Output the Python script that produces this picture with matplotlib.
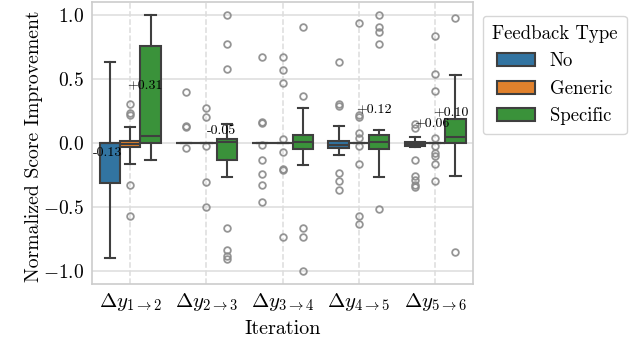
import matplotlib
matplotlib.use('Agg')
import matplotlib.pyplot as plt
from matplotlib.patches import Patch

plt.rcParams['font.family'] = 'serif'
plt.rcParams['font.serif'] = ['cmr10']
plt.rcParams['mathtext.fontset'] = 'cm'
plt.rcParams['axes.formatter.use_mathtext'] = True

# iteration steps
iterations = [r'$\Delta y_{1\to 2}$', r'$\Delta y_{2\to 3}$', r'$\Delta y_{3\to 4}$',
              r'$\Delta y_{4\to 5}$', r'$\Delta y_{5\to 6}$']
feedback = ['No', 'Generic', 'Specific']
colors = ['#3274a1', '#e1812c', '#3a923a']

# box statistics (per feedback type, per iteration)
no_q1 = [-0.31, 0.0, 0.0, -0.04, -0.026]
no_med = [0.0, 0.0, 0.0, -0.012, -0.01]
no_q3 = [0.0, 0.0, 0.0, 0.018, 0.005]
no_lo = [-0.894, 0.0, 0.0, -0.096, -0.03]
no_hi = [0.635, 0.0, 0.0, 0.135, 0.051]
no_fliers = [
    [],
    [0.40, 0.135, 0.125, -0.04],
    [0.669, 0.168, 0.155, -0.013, -0.135, -0.239, -0.33, -0.462],
    [0.635, 0.303, 0.29, -0.229, -0.293, -0.363],
    [0.148, 0.117, -0.13, -0.26, -0.29, -0.324, -0.34],
]

gen_q1 = [-0.034, 0.0, 0.0, 0.0, 0.0]
gen_med = [-0.008, 0.0, 0.0, 0.0, 0.0]
gen_q3 = [0.02, 0.0, 0.0, 0.0, 0.0]
gen_lo = [-0.163, 0.0, 0.0, 0.0, 0.0]
gen_hi = [0.124, 0.0, 0.0, 0.0, 0.0]
gen_fliers = [
    [0.303, 0.233, 0.22, -0.33, -0.565],
    [0.272, 0.202, -0.026, -0.30, -0.498],
    [0.669, 0.57, 0.472, 0.031, -0.07, -0.202, -0.21, -0.731],
    [0.938, 0.22, 0.202, 0.078, 0.039, -0.021, -0.163, -0.565, -0.63],
    [0.837, 0.537, 0.407, 0.039, -0.026, -0.078, -0.1, -0.163, -0.298],
]

spec_q1 = [0.0, -0.13, -0.047, -0.044, 0.0]
spec_med = [0.057, 0.005, 0.005, 0.005, 0.051]
spec_q3 = [0.759, 0.031, 0.065, 0.065, 0.187]
spec_lo = [-0.132, -0.264, -0.169, -0.264, -0.26]
spec_hi = [1.0, 0.15, 0.272, 0.103, 0.531]
spec_fliers = [
    [],
    [1.0, 0.77, 0.575, -0.664, -0.83, -0.88, -0.9],
    [0.902, 0.368, -0.664, -0.731, -0.998],
    [1.0, 0.902, 0.868, 0.77, -0.511],
    [0.972, -0.851],
]

# mean labels and where they sit
label_text = ['-0.13', '+0.31', '-0.05', '+0.12', '+0.06', '+0.10']
label_x = [-0.30, 0.196, 1.193, 3.20, 3.96, 4.21]
label_y = [-0.075, 0.453, 0.096, 0.267, 0.154, 0.243]

groups = [
    (no_q1, no_med, no_q3, no_lo, no_hi, no_fliers),
    (gen_q1, gen_med, gen_q3, gen_lo, gen_hi, gen_fliers),
    (spec_q1, spec_med, spec_q3, spec_lo, spec_hi, spec_fliers),
]

fig = plt.figure(figsize=(6.31, 3.47), dpi=100)
ax = fig.add_axes([0.146, 0.181, 0.604, 0.813])

line_col = '#3f3f3f'
w = 0.8 / 3
for h, (q1, med, q3, lo, hi, fl) in enumerate(groups):
    stats = []
    for i in range(len(iterations)):
        stats.append({'q1': q1[i], 'med': med[i], 'q3': q3[i],
                      'whislo': lo[i], 'whishi': hi[i], 'fliers': fl[i]})
    pos = [i - 0.8 / 2 + w * (h + 0.5) for i in range(len(iterations))]
    ax.bxp(stats, positions=pos, widths=w, patch_artist=True, showcaps=True,
           manage_ticks=False,
           boxprops=dict(facecolor=colors[h], edgecolor=line_col, linewidth=1.5),
           medianprops=dict(color=line_col, linewidth=1.5),
           whiskerprops=dict(color=line_col, linewidth=1.5),
           capprops=dict(color=line_col, linewidth=1.5),
           capwidths=w * 0.5,
           flierprops=dict(marker='o', markerfacecolor='none', markeredgecolor='#8a8a8a',
                           markersize=4.8, markeredgewidth=1.3, alpha=0.9))

for t, x, y in zip(label_text, label_x, label_y):
    ax.text(x, y, t, ha='center', va='center', fontsize=10, color='black')

ax.set_xlim(-0.5, len(iterations) - 0.5)
ax.set_ylim(-1.1, 1.1)
ax.set_xticks(range(len(iterations)))
ax.set_xticklabels(iterations, fontsize=15)
ax.set_yticks([-1.0, -0.5, 0.0, 0.5, 1.0])
ax.tick_params(axis='y', labelsize=14, length=0, pad=6)
ax.tick_params(axis='x', length=0, pad=5)
ax.set_xlabel('Iteration', fontsize=14.5, labelpad=5)
ax.set_ylabel('Normalized Score Improvement', fontsize=14.2, labelpad=7)
ax.yaxis.set_label_coords(-0.13, 0.49)

ax.set_axisbelow(True)
ax.grid(axis='y', color='#dddddd', linewidth=1.1)
ax.grid(axis='x', color='#dddddd', linewidth=1.1, linestyle='--')
for s in ax.spines.values():
    s.set_color('#cccccc')
    s.set_linewidth(1.2)

handles = [Patch(facecolor=c, edgecolor=line_col, linewidth=1.5) for c in colors]
leg = ax.legend(handles, feedback, title='Feedback Type', loc='upper left',
                bbox_to_anchor=(1.0, 0.985), fontsize=13.5, title_fontsize=13.5,
                frameon=True, edgecolor='#cccccc', handlelength=2.0, borderpad=0.5)
leg.get_frame().set_linewidth(1.0)

fig.savefig('out.png', dpi=100)
